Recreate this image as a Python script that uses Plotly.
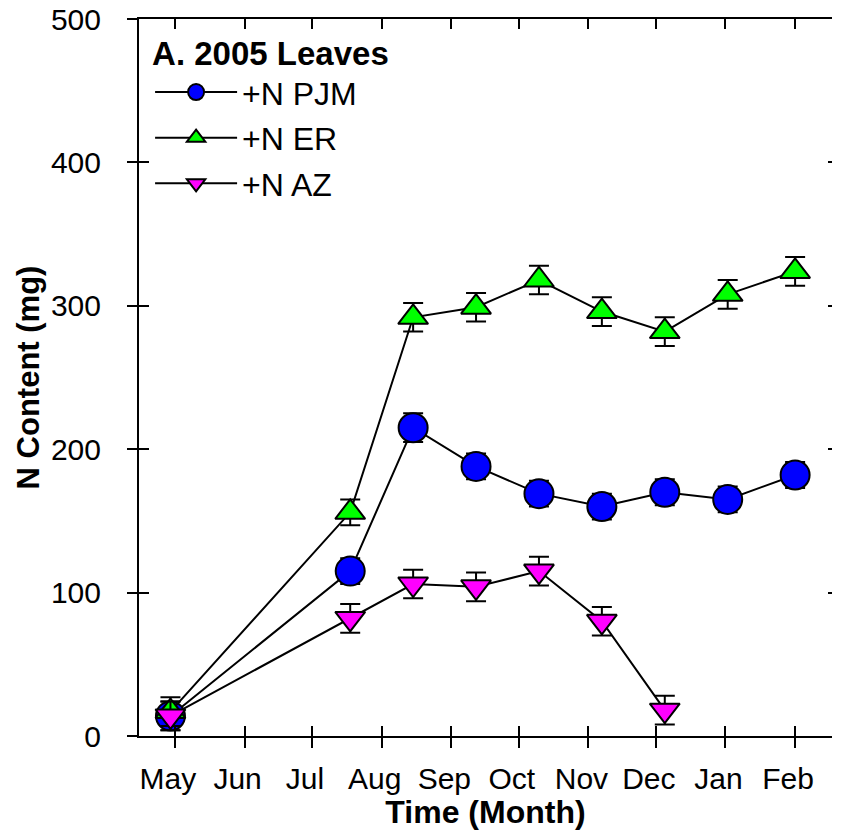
import plotly.graph_objects as go

# ---- data ----
sample_dates = ["2005-04-29", "2005-07-18", "2005-08-15", "2005-09-12", "2005-10-10",
                "2005-11-07", "2005-12-05", "2006-01-02", "2006-02-01"]
pjm_values = [14, 115, 215, 188, 169, 160, 170, 165, 182]
pjm_errors = [10, 9, 10, 9, 9, 9, 9, 9, 9]
er_values = [17, 156, 292, 299, 318, 296, 282, 308, 324]
er_errors = [10, 9, 10, 10, 10, 10, 10, 10, 10]
az_dates = sample_dates[:7]
az_values = [14, 82, 106, 104, 115, 80, 18]
az_errors = [10, 10, 10, 10, 10, 10, 10]

month_ticks = ["2005-05-01", "2005-06-01", "2005-07-01", "2005-08-01", "2005-09-01",
               "2005-10-01", "2005-11-01", "2005-12-01", "2006-01-01", "2006-02-01"]
month_labels = ["May", "Jun", "Jul", "Aug", "Sep", "Oct", "Nov", "Dec", "Jan", "Feb"]
y_ticks = [0, 100, 200, 300, 400, 500]

x_range = ["2005-04-15", "2006-02-17 10:00"]
y_range = [0, 500]

FONT = "Arial, Liberation Sans, Helvetica, sans-serif"


def err(arr):
    return dict(type="data", array=arr, color="black", thickness=2, width=10, visible=True)


fig = go.Figure()
fig.add_trace(go.Scatter(
    x=sample_dates, y=pjm_values, name="+N PJM", mode="lines+markers", legendgroup="a",
    line=dict(color="black", width=2),
    marker=dict(symbol="circle", size=29, color="#0000FF", line=dict(color="black", width=2)),
    error_y=err(pjm_errors)))
fig.add_trace(go.Scatter(
    x=sample_dates, y=er_values, name="+N ER", mode="lines+markers", legendgroup="b",
    line=dict(color="black", width=2),
    marker=dict(symbol="triangle-up", size=26, color="#00FF00", line=dict(color="black", width=2)),
    error_y=err(er_errors)))
fig.add_trace(go.Scatter(
    x=az_dates, y=az_values, name="+N AZ", mode="lines+markers", legendgroup="c",
    line=dict(color="black", width=2),
    marker=dict(symbol="triangle-down", size=26, color="#FF00FF", line=dict(color="black", width=2)),
    error_y=err(az_errors)))
# empty traces that register the overlay axes used for crossing / inner ticks
fig.add_trace(go.Scatter(x=[], y=[], xaxis="x2", yaxis="y2", showlegend=False, hoverinfo="skip"))
fig.add_trace(go.Scatter(x=[], y=[], xaxis="x2", yaxis="y3", showlegend=False, hoverinfo="skip"))

common_x = dict(type="date", range=x_range, tickmode="array", tickvals=month_ticks,
                showgrid=False, zeroline=False, tickwidth=2, tickcolor="black", ticklen=10)
common_y = dict(range=y_range, tickmode="array", tickvals=y_ticks, tickwidth=2,
                tickcolor="black", showgrid=False, zeroline=False)
fig.update_layout(
    width=832, height=830,
    margin=dict(l=139, r=0, t=19, b=94),
    paper_bgcolor="white", plot_bgcolor="white",
    font=dict(family=FONT, color="black", size=30),
    xaxis=dict(**common_x, ticktext=month_labels, ticks="outside", showline=True,
               linewidth=2, linecolor="black", tickfont=dict(size=30),
               ticklabelstandoff=5, ticklabelshift=-7,
               title=dict(text="<b>Time (Month)</b>", font=dict(size=32), standoff=3)),
    xaxis2=dict(**common_x, overlaying="x", anchor="y2", ticks="inside", showticklabels=False,
                showline=True, linewidth=2, linecolor="black", mirror="ticks"),
    yaxis=dict(**common_y, ticks="outside", ticklen=10, showline=True, linewidth=2,
               linecolor="black", tickfont=dict(size=30), ticklabelstandoff=20,
               title=dict(text="<b>N Content (mg)</b>", font=dict(size=31), standoff=2)),
    yaxis2=dict(**common_y, overlaying="y", anchor="x2", side="left", ticks="inside",
                ticklen=10, showline=False, showticklabels=False),
    yaxis3=dict(**common_y, overlaying="y", anchor="x2", side="right", ticks="inside",
                ticklen=4, showline=False, showticklabels=False),
    legend=dict(x=0.016, y=0.996, xanchor="left", yanchor="top", bgcolor="rgba(0,0,0,0)",
                font=dict(size=32), itemwidth=82, tracegroupgap=1,
                title=dict(text="<b>A. 2005 Leaves</b>", font=dict(size=33))),
    showlegend=True,
)

fig.write_html("out.html")
